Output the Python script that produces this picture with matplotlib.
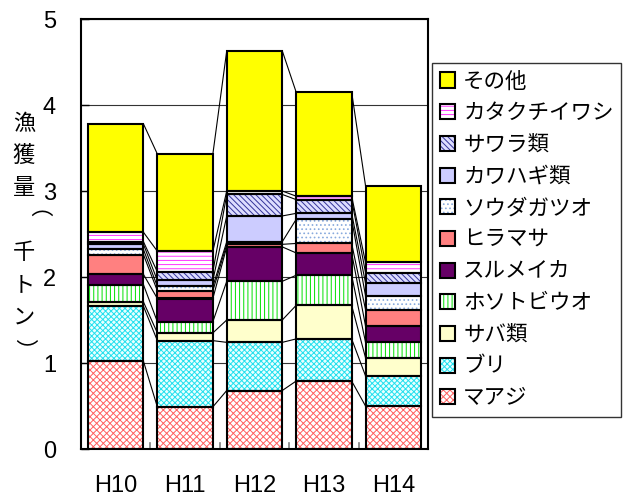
import numpy as np
import matplotlib.pyplot as plt
from matplotlib.patches import Patch
from matplotlib.legend_handler import HandlerTuple

plt.rcParams['font.family'] = ['Noto Sans CJK JP', 'DejaVu Sans']
plt.rcParams['hatch.linewidth'] = 0.7

years = ["H10", "H11", "H12", "H13", "H14"]

# 魚種別漁獲量 (千トン)
maaji = [1.02, 0.49, 0.68, 0.79, 0.50]
buri = [0.64, 0.77, 0.56, 0.49, 0.35]
saba = [0.05, 0.09, 0.26, 0.39, 0.21]
hosotobiuo = [0.20, 0.13, 0.45, 0.35, 0.18]
surumeika = [0.12, 0.27, 0.40, 0.26, 0.19]
hiramasa = [0.23, 0.09, 0.03, 0.11, 0.19]
soudagatsuo = [0.06, 0.05, 0.03, 0.28, 0.16]
kawahagi = [0.06, 0.07, 0.30, 0.07, 0.15]
sawara = [0.03, 0.10, 0.25, 0.16, 0.12]
katakuchi = [0.11, 0.24, 0.04, 0.04, 0.12]
sonota = [1.26, 1.13, 1.63, 1.21, 0.89]

series = [
    ("マアジ", maaji, "white", "xxxxx", "#ff6060"),
    ("ブリ", buri, "#e8ffff", "xxxxxx", "#22e0ee"),
    ("サバ類", saba, "#ffffcc", None, None),
    ("ホソトビウオ", hosotobiuo, "white", "||||", "#00e000"),
    ("スルメイカ", surumeika, "#660066", None, None),
    ("ヒラマサ", hiramasa, "#ff8080", None, None),
    ("ソウダガツオ", soudagatsuo, "white", "....", "#88aadd"),
    ("カワハギ類", kawahagi, "#ccccff", None, None),
    ("サワラ類", sawara, "#ddddff", "\\\\\\\\\\\\", "#333399"),
    ("カタクチイワシ", katakuchi, "white", "----", "#ff33ff"),
    ("その他", sonota, "#ffff00", None, None),
]

fig = plt.figure(figsize=(6.27, 4.98), dpi=100)
ax = fig.add_axes([81/627, 49/498, 347/627, 430/498])

x = np.arange(len(years))
w = 0.8
bottom = np.zeros(len(years))
handles = []
levels = []
for name, vals, face, hatch, hcol in series:
    vals = np.array(vals)
    if hatch:
        ax.bar(x, vals, w, bottom=bottom, color=face, hatch=hatch,
               edgecolor=hcol, linewidth=0, zorder=2)
    else:
        ax.bar(x, vals, w, bottom=bottom, color=face, linewidth=0, zorder=2)
    ax.bar(x, vals, w, bottom=bottom, fill=False, edgecolor="black",
           linewidth=1.5, zorder=3)
    bottom = bottom + vals
    levels.append(bottom.copy())
    if hatch:
        h1 = Patch(facecolor=face, hatch=hatch, edgecolor=hcol, linewidth=0)
    else:
        h1 = Patch(facecolor=face, linewidth=0)
    h2 = Patch(fill=False, edgecolor="black", linewidth=1.5)
    handles.append(((h1, h2), name))

# 区分線
for lv in levels:
    for i in range(len(years) - 1):
        ax.plot([x[i] + w/2, x[i+1] - w/2], [lv[i], lv[i+1]],
                color="black", lw=0.8, zorder=1)

ax.set_xlim(-0.5, 4.5)
ax.set_ylim(0, 5)
ax.set_yticks([0, 1, 2, 3, 4, 5])
ax.yaxis.grid(True, color="#333333", lw=0.8)
ax.set_axisbelow(True)
ax.tick_params(axis="y", direction="in", length=6, width=1, pad=18,
               labelsize=17)
ax.set_xticks(x)
ax.set_xticklabels(years)
ax.tick_params(axis="x", length=0, pad=19, labelsize=17)
for xb in [0.5, 1.5, 2.5, 3.5]:
    ax.plot([xb, xb], [0, 0.07], color="gray", lw=1.2, zorder=1)
for lbl in ax.get_xticklabels() + ax.get_yticklabels():
    lbl.set_family(["Liberation Sans", "DejaVu Sans"])
for s in ax.spines.values():
    s.set_linewidth(1.5)

# 縦書きの軸ラベル
chars = ["漁", "獲", "量", "（", "千", "ト", "ン", "）"]
for k, c in enumerate(chars):
    yy = 1 - (123 + 32.4 * k) / 498
    rot = -90 if c in "（）" else 0
    fig.text(24/627, yy, c, fontsize=16, ha="center", va="center",
             rotation=rot)

hs = [h for h, n in handles][::-1]
ns = [n for h, n in handles][::-1]
leg = fig.legend(hs, ns, loc="upper left",
                 bbox_to_anchor=(432/627, 1 - 63/498),
                 handler_map={tuple: HandlerTuple(ndivide=1, pad=0)},
                 fontsize=15.5, frameon=True, fancybox=False,
                 edgecolor="black", handlelength=0.7, handleheight=0.7,
                 handletextpad=0.4, labelspacing=0.45, borderpad=0.35,
                 borderaxespad=0)
leg.get_frame().set_linewidth(1.0)

fig.savefig("out.png", dpi=100)
